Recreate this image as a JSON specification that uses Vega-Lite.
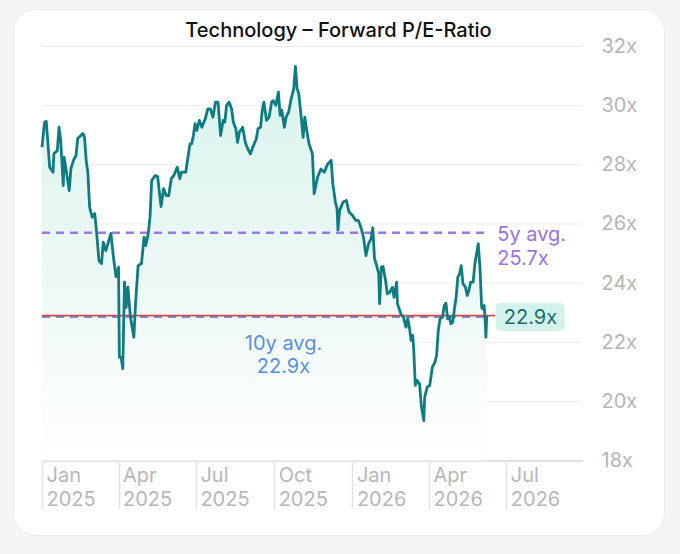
{
  "$schema": "https://vega.github.io/schema/vega-lite/v6.json",
  "width": 651,
  "height": 526,
  "autosize": {"type": "none"},
  "padding": {"left": 13, "top": 9, "right": 16, "bottom": 19},
  "background": "#f5f5f5",
  "title": {
    "text": "Technology – Forward P/E-Ratio",
    "font": "Inter",
    "fontSize": 20,
    "fontWeight": 500,
    "color": "#111111",
    "anchor": "middle",
    "baseline": "alphabetic",
    "offset": 10,
    "dy": 58
  },
  "config": {
    "view": {"fill": "#ffffff", "stroke": "#ececec", "strokeWidth": 1, "cornerRadius": 22},
    "font": "Inter"
  },
  "datasets": {
    "pe": [
      {"date": "2025-01-01", "value": 28.60},
      {"date": "2025-01-04", "value": 29.44},
      {"date": "2025-01-06", "value": 29.47},
      {"date": "2025-01-08", "value": 28.72},
      {"date": "2025-01-10", "value": 27.92},
      {"date": "2025-01-14", "value": 27.75},
      {"date": "2025-01-15", "value": 28.38},
      {"date": "2025-01-19", "value": 28.48},
      {"date": "2025-01-21", "value": 29.27},
      {"date": "2025-01-23", "value": 28.82},
      {"date": "2025-01-26", "value": 27.30},
      {"date": "2025-01-27", "value": 28.26},
      {"date": "2025-01-30", "value": 27.71},
      {"date": "2025-02-02", "value": 27.13},
      {"date": "2025-02-04", "value": 27.87},
      {"date": "2025-02-07", "value": 28.15},
      {"date": "2025-02-10", "value": 28.32},
      {"date": "2025-02-12", "value": 28.89},
      {"date": "2025-02-18", "value": 29.06},
      {"date": "2025-02-20", "value": 28.93},
      {"date": "2025-02-22", "value": 28.15},
      {"date": "2025-02-24", "value": 27.71},
      {"date": "2025-02-26", "value": 26.57},
      {"date": "2025-03-01", "value": 26.23},
      {"date": "2025-03-04", "value": 26.35},
      {"date": "2025-03-06", "value": 25.78},
      {"date": "2025-03-09", "value": 24.76},
      {"date": "2025-03-12", "value": 24.66},
      {"date": "2025-03-14", "value": 25.38},
      {"date": "2025-03-17", "value": 25.10},
      {"date": "2025-03-20", "value": 25.38},
      {"date": "2025-03-23", "value": 25.68},
      {"date": "2025-03-26", "value": 24.88},
      {"date": "2025-03-29", "value": 24.22},
      {"date": "2025-04-01", "value": 24.54},
      {"date": "2025-04-02", "value": 21.49},
      {"date": "2025-04-04", "value": 21.49},
      {"date": "2025-04-06", "value": 21.11},
      {"date": "2025-04-08", "value": 24.03},
      {"date": "2025-04-10", "value": 23.18},
      {"date": "2025-04-12", "value": 23.86},
      {"date": "2025-04-15", "value": 22.85},
      {"date": "2025-04-19", "value": 22.17},
      {"date": "2025-04-21", "value": 23.31},
      {"date": "2025-04-24", "value": 24.59},
      {"date": "2025-04-28", "value": 24.66},
      {"date": "2025-05-01", "value": 25.55},
      {"date": "2025-05-03", "value": 25.27},
      {"date": "2025-05-06", "value": 25.68},
      {"date": "2025-05-08", "value": 26.23},
      {"date": "2025-05-10", "value": 27.47},
      {"date": "2025-05-14", "value": 27.64},
      {"date": "2025-05-17", "value": 27.60},
      {"date": "2025-05-21", "value": 26.59},
      {"date": "2025-05-24", "value": 27.19},
      {"date": "2025-05-27", "value": 26.96},
      {"date": "2025-05-30", "value": 26.96},
      {"date": "2025-06-02", "value": 27.53},
      {"date": "2025-06-05", "value": 27.64},
      {"date": "2025-06-09", "value": 27.92},
      {"date": "2025-06-12", "value": 27.53},
      {"date": "2025-06-14", "value": 27.75},
      {"date": "2025-06-19", "value": 27.75},
      {"date": "2025-06-24", "value": 28.71},
      {"date": "2025-06-26", "value": 28.71},
      {"date": "2025-06-28", "value": 28.99},
      {"date": "2025-06-30", "value": 29.39},
      {"date": "2025-07-02", "value": 29.16},
      {"date": "2025-07-05", "value": 29.50},
      {"date": "2025-07-08", "value": 29.27},
      {"date": "2025-07-12", "value": 29.56},
      {"date": "2025-07-15", "value": 29.89},
      {"date": "2025-07-18", "value": 29.89},
      {"date": "2025-07-21", "value": 29.61},
      {"date": "2025-07-24", "value": 30.12},
      {"date": "2025-07-27", "value": 30.12},
      {"date": "2025-07-30", "value": 28.99},
      {"date": "2025-08-02", "value": 29.50},
      {"date": "2025-08-04", "value": 29.44},
      {"date": "2025-08-06", "value": 30.01},
      {"date": "2025-08-09", "value": 30.12},
      {"date": "2025-08-12", "value": 29.89},
      {"date": "2025-08-14", "value": 29.44},
      {"date": "2025-08-17", "value": 29.22},
      {"date": "2025-08-19", "value": 28.76},
      {"date": "2025-08-21", "value": 29.10},
      {"date": "2025-08-25", "value": 29.27},
      {"date": "2025-08-28", "value": 28.76},
      {"date": "2025-08-31", "value": 28.54},
      {"date": "2025-09-03", "value": 28.37},
      {"date": "2025-09-06", "value": 28.60},
      {"date": "2025-09-10", "value": 28.88},
      {"date": "2025-09-12", "value": 29.22},
      {"date": "2025-09-15", "value": 29.27},
      {"date": "2025-09-17", "value": 29.84},
      {"date": "2025-09-19", "value": 30.12},
      {"date": "2025-09-22", "value": 29.50},
      {"date": "2025-09-25", "value": 29.61},
      {"date": "2025-09-28", "value": 30.12},
      {"date": "2025-09-30", "value": 30.17},
      {"date": "2025-10-03", "value": 30.01},
      {"date": "2025-10-06", "value": 30.46},
      {"date": "2025-10-08", "value": 29.67},
      {"date": "2025-10-10", "value": 29.84},
      {"date": "2025-10-13", "value": 29.27},
      {"date": "2025-10-15", "value": 29.61},
      {"date": "2025-10-18", "value": 29.78},
      {"date": "2025-10-21", "value": 30.23},
      {"date": "2025-10-24", "value": 30.57},
      {"date": "2025-10-26", "value": 31.33},
      {"date": "2025-10-28", "value": 30.57},
      {"date": "2025-10-30", "value": 30.40},
      {"date": "2025-11-02", "value": 29.56},
      {"date": "2025-11-04", "value": 28.93},
      {"date": "2025-11-06", "value": 29.61},
      {"date": "2025-11-08", "value": 29.22},
      {"date": "2025-11-11", "value": 28.71},
      {"date": "2025-11-15", "value": 28.37},
      {"date": "2025-11-17", "value": 27.02},
      {"date": "2025-11-21", "value": 27.58},
      {"date": "2025-11-25", "value": 27.86},
      {"date": "2025-11-29", "value": 27.75},
      {"date": "2025-12-03", "value": 28.03},
      {"date": "2025-12-07", "value": 28.15},
      {"date": "2025-12-09", "value": 27.36},
      {"date": "2025-12-12", "value": 26.74},
      {"date": "2025-12-14", "value": 26.51},
      {"date": "2025-12-15", "value": 25.80},
      {"date": "2025-12-17", "value": 26.45},
      {"date": "2025-12-21", "value": 26.74},
      {"date": "2025-12-25", "value": 26.79},
      {"date": "2025-12-28", "value": 26.40},
      {"date": "2026-01-01", "value": 26.29},
      {"date": "2026-01-05", "value": 26.12},
      {"date": "2026-01-08", "value": 26.12},
      {"date": "2026-01-11", "value": 25.89},
      {"date": "2026-01-14", "value": 25.55},
      {"date": "2026-01-17", "value": 24.93},
      {"date": "2026-01-20", "value": 25.33},
      {"date": "2026-01-23", "value": 25.50},
      {"date": "2026-01-25", "value": 25.87},
      {"date": "2026-01-27", "value": 24.82},
      {"date": "2026-01-29", "value": 24.65},
      {"date": "2026-02-01", "value": 24.31},
      {"date": "2026-02-02", "value": 23.30},
      {"date": "2026-02-04", "value": 24.54},
      {"date": "2026-02-06", "value": 24.56},
      {"date": "2026-02-09", "value": 24.09},
      {"date": "2026-02-11", "value": 23.64},
      {"date": "2026-02-14", "value": 23.69},
      {"date": "2026-02-17", "value": 23.86},
      {"date": "2026-02-19", "value": 23.52},
      {"date": "2026-02-22", "value": 24.03},
      {"date": "2026-02-23", "value": 23.30},
      {"date": "2026-02-27", "value": 22.96},
      {"date": "2026-03-02", "value": 22.85},
      {"date": "2026-03-05", "value": 22.51},
      {"date": "2026-03-07", "value": 22.79},
      {"date": "2026-03-09", "value": 22.51},
      {"date": "2026-03-11", "value": 22.06},
      {"date": "2026-03-13", "value": 22.23},
      {"date": "2026-03-14", "value": 21.83},
      {"date": "2026-03-16", "value": 20.54},
      {"date": "2026-03-18", "value": 20.71},
      {"date": "2026-03-21", "value": 20.59},
      {"date": "2026-03-23", "value": 19.86},
      {"date": "2026-03-26", "value": 19.35},
      {"date": "2026-03-27", "value": 20.14},
      {"date": "2026-03-30", "value": 20.48},
      {"date": "2026-04-02", "value": 20.54},
      {"date": "2026-04-05", "value": 21.16},
      {"date": "2026-04-08", "value": 21.32},
      {"date": "2026-04-10", "value": 21.55},
      {"date": "2026-04-12", "value": 22.40},
      {"date": "2026-04-14", "value": 22.79},
      {"date": "2026-04-17", "value": 22.85},
      {"date": "2026-04-19", "value": 23.24},
      {"date": "2026-04-21", "value": 23.32},
      {"date": "2026-04-23", "value": 22.79},
      {"date": "2026-04-25", "value": 22.85},
      {"date": "2026-04-27", "value": 22.62},
      {"date": "2026-04-29", "value": 22.68},
      {"date": "2026-05-01", "value": 23.13},
      {"date": "2026-05-03", "value": 23.52},
      {"date": "2026-05-05", "value": 24.20},
      {"date": "2026-05-07", "value": 24.31},
      {"date": "2026-05-09", "value": 24.59},
      {"date": "2026-05-11", "value": 23.98},
      {"date": "2026-05-14", "value": 23.86},
      {"date": "2026-05-16", "value": 23.58},
      {"date": "2026-05-18", "value": 23.75},
      {"date": "2026-05-20", "value": 24.03},
      {"date": "2026-05-23", "value": 24.03},
      {"date": "2026-05-25", "value": 24.65},
      {"date": "2026-05-27", "value": 24.99},
      {"date": "2026-05-29", "value": 25.33},
      {"date": "2026-05-31", "value": 24.54},
      {"date": "2026-06-02", "value": 23.18},
      {"date": "2026-06-03", "value": 23.13},
      {"date": "2026-06-05", "value": 23.24},
      {"date": "2026-06-06", "value": 22.79},
      {"date": "2026-06-07", "value": 22.17},
      {"date": "2026-06-08", "value": 22.90}
    ]
  },
  "encoding": {
    "x": {
      "field": "date",
      "type": "temporal",
      "scale": {"type": "utc", "domain": ["2025-01-01", "2026-09-28"], "range": [29, 569]},
      "axis": {
        "title": null,
        "orient": "bottom",
        "offset": -74.5,
        "grid": false,
        "tickCount": {"interval": "month", "step": 3},
        "tickSize": 48,
        "tickColor": "#e3e3e3",
        "tickWidth": 1.5,
        "domainColor": "#e2e2e2",
        "domainWidth": 2,
        "labelExpr": "[utcFormat(datum.value, '%b'), utcFormat(datum.value, '%Y')]",
        "labelAlign": "left",
        "labelBaseline": "top",
        "labelPadding": -43,
        "labelOffset": 4,
        "labelFont": "Inter",
        "labelFontSize": 20,
        "labelColor": "#b7b7b7",
        "labelLineHeight": 23.5,
        "labelFlush": false,
        "labelOverlap": false
      }
    },
    "y": {
      "field": "value",
      "type": "quantitative",
      "scale": {"domain": [18, 32], "zero": false, "nice": false, "range": [451.5, 37.5]},
      "axis": {
        "title": null,
        "orient": "right",
        "offset": -82,
        "values": [18, 20, 22, 24, 26, 28, 30, 32],
        "grid": false,
        "domain": false,
        "ticks": false,
        "labelExpr": "datum.value + 'x'",
        "labelPadding": 19,
        "labelFont": "Inter",
        "labelFontSize": 20,
        "labelColor": "#b5b5b5",
        "labelBaseline": "middle"
      }
    }
  },
  "layer": [
    {
      "data": {"values": [
        {"date": "2025-01-01", "end": "2026-09-28", "value": 20},
        {"date": "2025-01-01", "end": "2026-09-28", "value": 22},
        {"date": "2025-01-01", "end": "2026-09-28", "value": 24},
        {"date": "2025-01-01", "end": "2026-09-28", "value": 26},
        {"date": "2025-01-01", "end": "2026-09-28", "value": 28},
        {"date": "2025-01-01", "end": "2026-09-28", "value": 30},
        {"date": "2025-01-01", "end": "2026-09-28", "value": 32}
      ]},
      "mark": {"type": "rule", "color": "#ececec", "strokeWidth": 1},
      "encoding": {"x2": {"field": "end"}}
    },
    {
      "data": {"name": "pe"},
      "mark": {
        "type": "area",
        "color": {
          "gradient": "linear",
          "x1": 0, "y1": 0, "x2": 0, "y2": 1,
          "stops": [
            {"offset": 0, "color": "#d6f2ec"},
            {"offset": 0.6, "color": "#eef9f7"},
            {"offset": 1, "color": "#ffffff"}
          ]
        },
        "opacity": 0.92
      },
      "encoding": {"y2": {"datum": 18}}
    },
    {
      "data": {"values": [{"date": "2025-01-01", "end": "2026-06-09", "value": 22.9}]},
      "mark": {"type": "rule", "color": "#6a95e6", "strokeWidth": 2.5, "strokeDash": [8, 6], "yOffset": 1.2},
      "encoding": {"x2": {"field": "end"}}
    },
    {
      "data": {"values": [{"date": "2025-01-01", "end": "2026-06-08", "value": 25.7}]},
      "mark": {"type": "rule", "color": "#9d78e4", "strokeWidth": 2.5, "strokeDash": [8, 6]},
      "encoding": {"x2": {"field": "end"}}
    },
    {
      "data": {"values": [{"date": "2025-01-01", "end": "2026-06-18", "value": 22.9}]},
      "mark": {"type": "rule", "color": "#d2474c", "strokeWidth": 1.6},
      "encoding": {"x2": {"field": "end"}}
    },
    {
      "data": {"name": "pe"},
      "mark": {"type": "line", "color": "#0e7c80", "strokeWidth": 2.8, "strokeJoin": "round"}
    },
    {
      "data": {"values": [{"date": "2026-06-08", "value": 22.9, "label": "22.9x"}]},
      "mark": {
        "type": "point",
        "filled": true,
        "shape": "M-2.02,-1 L2.02,-1 Q2.44,-1 2.44,-0.58 L2.44,0.58 Q2.44,1 2.02,1 L-2.02,1 Q-2.44,1 -2.44,0.58 L-2.44,-0.58 Q-2.44,-1 -2.02,-1 Z",
        "size": 801,
        "color": "#d4f2ec",
        "opacity": 1,
        "strokeWidth": 0,
        "xOffset": 43.4,
        "yOffset": 1.3
      }
    },
    {
      "data": {"values": [{"date": "2026-06-08", "value": 22.9, "label": "22.9x"}]},
      "mark": {"type": "text", "align": "left", "baseline": "middle", "dx": 17, "dy": 2.7, "font": "Inter", "fontSize": 20, "color": "#12716f"},
      "encoding": {"text": {"field": "label"}}
    },
    {
      "data": {"values": [{"date": "2026-06-08", "value": 25.7, "label": ["5y avg.", "25.7x"]}]},
      "mark": {"type": "text", "align": "left", "baseline": "middle", "dx": 10.5, "dy": 2, "font": "Inter", "fontSize": 20, "lineHeight": 24, "color": "#9b72e2"},
      "encoding": {"text": {"field": "label"}}
    },
    {
      "data": {"values": [{"date": "2025-10-12", "value": 22.9, "label": ["10y avg.", "22.9x"]}]},
      "mark": {"type": "text", "align": "center", "baseline": "middle", "dy": 28, "font": "Inter", "fontSize": 20, "lineHeight": 23.5, "color": "#5b8fe0"},
      "encoding": {"text": {"field": "label"}}
    }
  ]
}
